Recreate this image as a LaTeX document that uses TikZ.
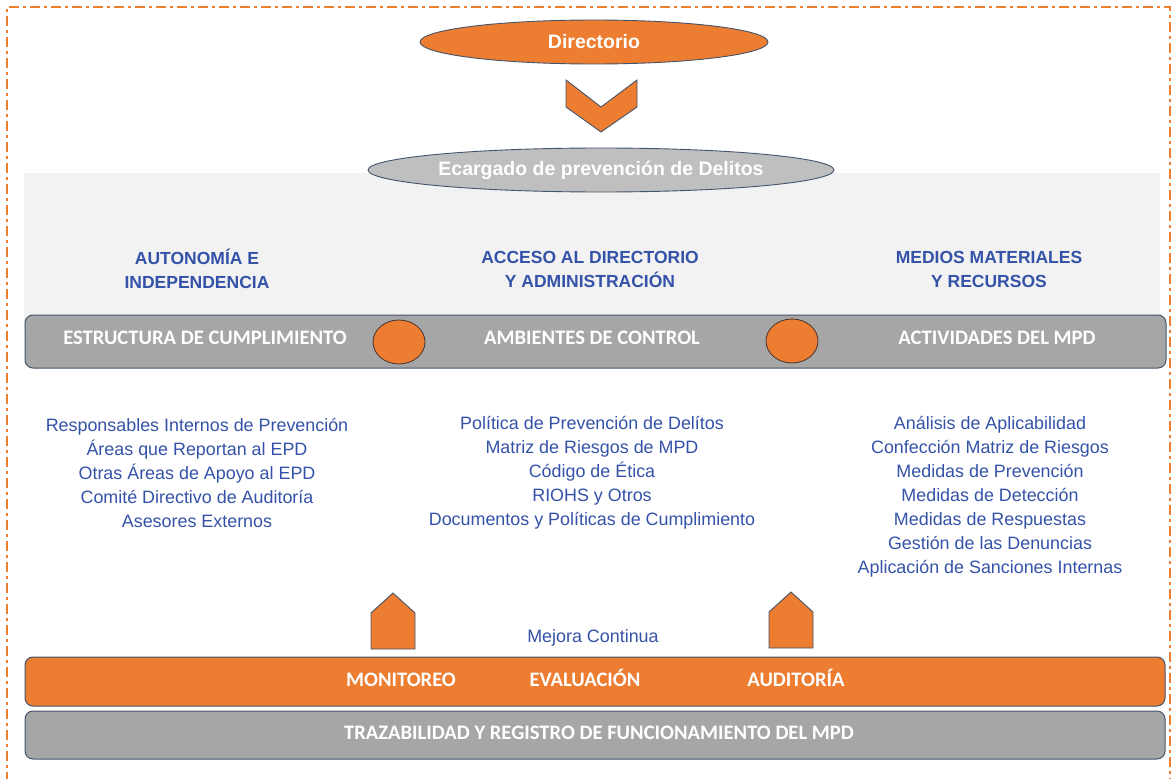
\documentclass[tikz,border=0pt]{standalone}
\usepackage{fontspec}
\setmainfont{Liberation Sans}
\newfontfamily\calfont{Carlito}
\usetikzlibrary{shapes.geometric}
\definecolor{org}{HTML}{ED7D31}
\definecolor{bargray}{HTML}{A6A6A6}
\definecolor{edge}{HTML}{44546A}
\definecolor{panel}{HTML}{F2F2F2}
\definecolor{elgray}{HTML}{BFBFBF}
\definecolor{txtblue}{RGB}{52,82,168}
\tikzset{
  oval/.style={ellipse, draw=edge, line width=0.9pt, inner sep=0pt, text=white, font=\bfseries\fontsize{19.5}{22}\selectfont},
  bar/.style={rounded corners=8pt, draw=edge, line width=1pt},
  bartext/.style={text=white, font=\calfont\bfseries\fontsize{20.6}{24}\selectfont, inner sep=0pt, text height=13.2pt, text depth=0pt},
  heading/.style={text=txtblue, align=center, font=\bfseries\fontsize{17.5}{24}\selectfont, inner sep=0pt},
  listtext/.style={text=txtblue, align=center, font=\fontsize{17.9}{24}\selectfont, inner sep=0pt},
  dot/.style={ellipse, fill=org, draw=edge!60!org!50!black, line width=0.8pt, minimum width=52pt, minimum height=44pt, inner sep=0pt},
  shapeline/.style={fill=org, draw=edge, line width=0.9pt, line join=miter},
  frame/.style={draw=org, line width=1.6pt, dash pattern=on 10pt off 4pt on 3pt off 4pt}
}
\begin{document}
\begin{tikzpicture}[x=1pt,y=-1pt]
\useasboundingbox (0,0) rectangle (1176,779);
% outer dash-dot frame
\draw[frame] (7,782) -- (7,7) -- (1170,7) -- (1170,782);
% light panel
\fill[panel] (24,173) rectangle (1160,330);
% top ovals
\node[oval, fill=org, minimum width=348pt, minimum height=44pt] (dir) at (594,42) {Directorio};
\draw[shapeline] (566,80) -- (601,107) -- (637,80) -- (637,107) -- (601,132) -- (566,107) -- cycle;
\node[oval, fill=elgray, minimum width=466pt, minimum height=44pt] (epd) at (601,170) {Ecargado de prevención de Delitos};
% headings
\node[heading] (h1) at (197,269) {AUTONOMÍA E\\INDEPENDENCIA};
\node[heading] (h2) at (590,269) {ACCESO AL DIRECTORIO\\Y ADMINISTRACIÓN};
\node[heading] (h3) at (989,269) {MEDIOS MATERIALES\\Y RECURSOS};
% gray bar
\draw[bar, fill=bargray] (25,315) rectangle (1166,368);
\node[bartext] (b1) at (205,338) {ESTRUCTURA DE CUMPLIMIENTO};
\node[bartext] (b2) at (592,338) {AMBIENTES DE CONTROL};
\node[bartext] (b3) at (997,338) {ACTIVIDADES DEL MPD};
\node[dot] (c1) at (399,342) {};
\node[dot] (c2) at (792,341) {};
% lists
\node[listtext] (l1) at (197,473) {Responsables Internos de Prevención\\Áreas que Reportan al EPD\\Otras Áreas de Apoyo al EPD\\Comité Directivo de Auditoría\\Asesores Externos};
\node[listtext] (l2) at (592,473) {Política de Prevención de Delítos\\Matriz de Riesgos de MPD\\Código de Ética\\RIOHS y Otros\\Documentos y Políticas de Cumplimiento};
\node[listtext] (l3) at (990,497) {Análisis de Aplicabilidad\\Confección Matriz de Riesgos\\Medidas de Prevención\\Medidas de Detección\\Medidas de Respuestas\\Gestión de las Denuncias\\Aplicación de Sanciones Internas};
% up arrows
\draw[shapeline] (371,649) -- (371,613) -- (393,593) -- (415,613) -- (415,649) -- cycle;
\draw[shapeline] (769,648) -- (769,612) -- (791,592) -- (813,612) -- (813,648) -- cycle;
\node[listtext] (mc) at (593,638) {Mejora Continua};
% orange bar
\draw[bar, fill=org] (25,657) rectangle (1165,706);
\node[bartext] (m1) at (401,680) {MONITOREO};
\node[bartext] (m2) at (585,680) {EVALUACIÓN};
\node[bartext] (m3) at (796,680) {AUDITORÍA};
% bottom gray bar
\draw[bar, fill=bargray] (25,711) rectangle (1165,759);
\node[bartext] (t1) at (599,733) {TRAZABILIDAD Y REGISTRO DE FUNCIONAMIENTO DEL MPD};
\end{tikzpicture}
\end{document}
